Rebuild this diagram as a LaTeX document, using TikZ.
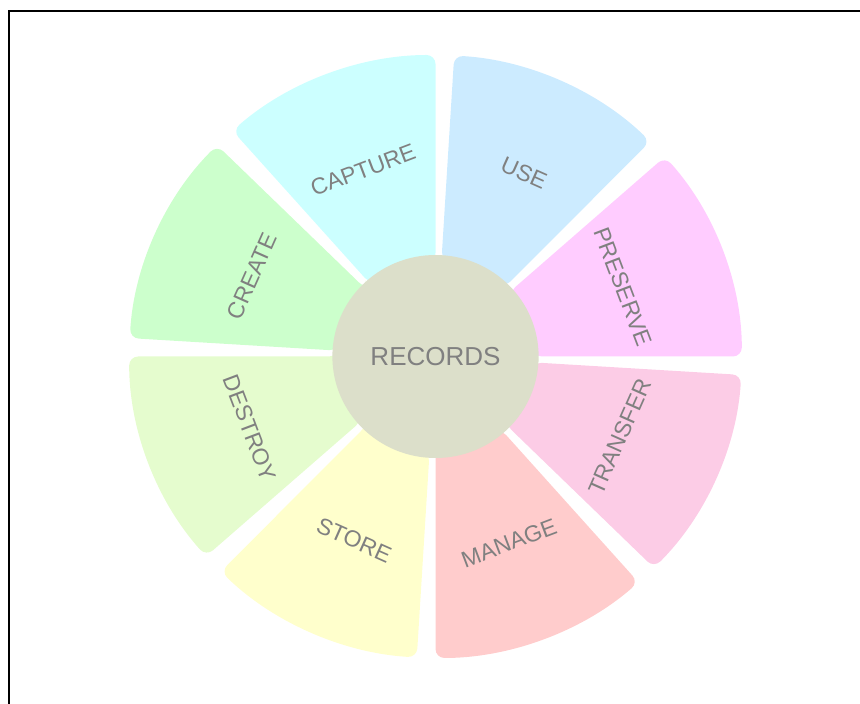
\documentclass[tikz,border=0pt]{standalone}
\usepackage{fontspec}
\setmainfont{Liberation Sans}
\definecolor{capc}{RGB}{204,255,255}
\definecolor{usec}{RGB}{204,235,255}
\definecolor{presc}{RGB}{255,204,255}
\definecolor{tranc}{RGB}{252,204,230}
\definecolor{manc}{RGB}{255,204,204}
\definecolor{stoc}{RGB}{255,255,204}
\definecolor{desc}{RGB}{229,252,206}
\definecolor{crec}{RGB}{204,255,204}
\definecolor{recc}{RGB}{220,223,202}
\definecolor{txtc}{RGB}{128,128,128}
\tikzset{
  lbl/.style={text=txtc, font=\fontsize{23}{27}\selectfont, inner sep=0pt},
  reclbl/.style={text=txtc, font=\fontsize{26}{30}\selectfont, inner sep=0pt},
  frame/.style={line width=2pt, black},
}
\newcommand{\sector}[3]{%
  \fill[#3, rounded corners=9pt] (#1:96) -- (#1:301.5)
    arc[start angle=#1, end angle=#2, radius=301.5] -- (#2:96)
    arc[start angle=#2, end angle=#1, radius=96] -- cycle;}
\begin{document}
\begin{tikzpicture}[x=1pt,y=1pt]
\useasboundingbox (0,0) rectangle (860,704);
\draw[frame] (9,-5) -- (9,693) -- (866,693);
\begin{scope}[shift={(435.5,347.5)}, xscale=1.016]
  \sector{0}{41.5}{presc}
  \sector{45.5}{86.5}{usec}
  \sector{90}{131.5}{capc}
  \sector{135.5}{176.5}{crec}
  \sector{180}{221.5}{desc}
  \sector{225.5}{266.5}{stoc}
  \sector{270}{311.5}{manc}
  \sector{315.5}{356.5}{tranc}
  \fill[recc] (0,0) circle[radius=101.5];
\end{scope}
\node[reclbl] (rec) at (435.5,347.5) {RECORDS};
\node[lbl, rotate=20.75] (cap) at (363,534) {CAPTURE};
\node[lbl, rotate=-24] (use) at (524,531) {USE};
\node[lbl, rotate=-69.25] (pre) at (623,417) {PRESERVE};
\node[lbl, rotate=66] (tra) at (620,267) {TRANSFER};
\node[lbl, rotate=20.75] (man) at (509,161) {MANAGE};
\node[lbl, rotate=-24] (sto) at (354,164) {STORE};
\node[lbl, rotate=-69.25] (des) at (250,276) {DESTROY};
\node[lbl, rotate=66] (cre) at (252,428) {CREATE};
\end{tikzpicture}
\end{document}
